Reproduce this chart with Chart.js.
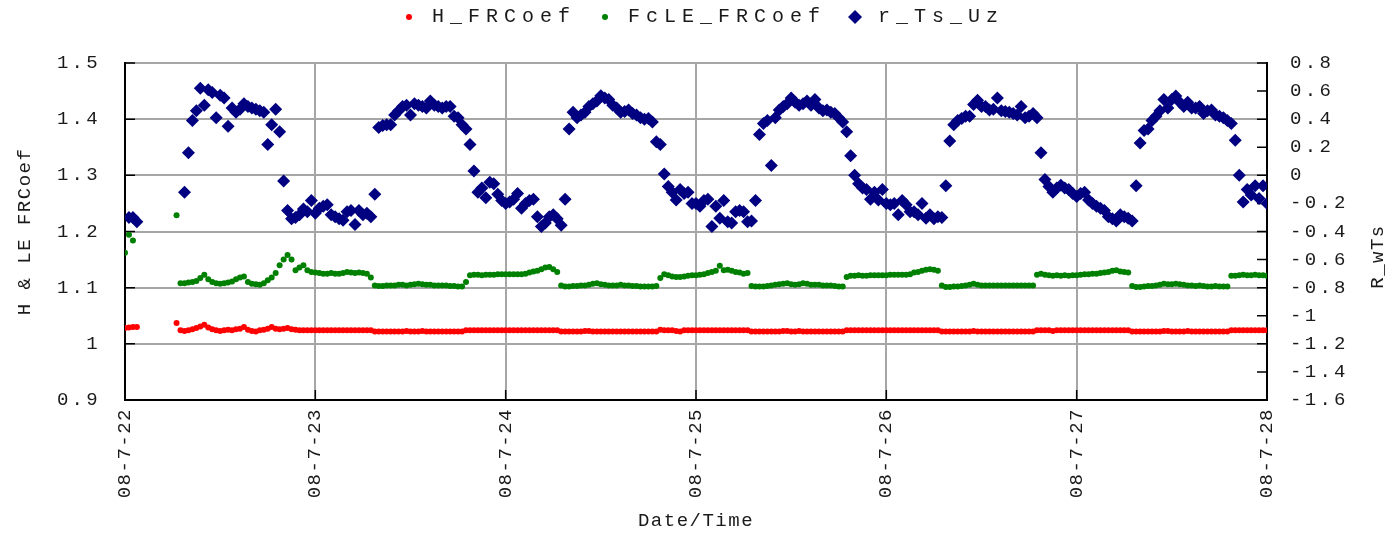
<!DOCTYPE html>
<html>
<head>
<meta charset="utf-8">
<title>FRCoef / r_Ts_Uz</title>
<script src="https://cdn.jsdelivr.net/npm/chart.js@4/dist/chart.umd.min.js"></script>
<style>
  html, body { margin: 0; padding: 0; background: #ffffff; }
  #wrap { width: 1400px; height: 533px; }
</style>
</head>
<body>
<div id="wrap"><canvas id="chart" width="1400" height="533"></canvas></div>
<script>
// Day tick labels (one tick per day, 48 half-hour samples per day)
const dayLabels = ['08-7-22', '08-7-23', '08-7-24', '08-7-25', '08-7-26', '08-7-27', '08-7-28'];
const samplesPerDay = 48;

// H_FRCoef (left axis)
const hFRCoef = [
  1.028, 1.029, 1.030, 1.030, null, null, null, null, null, null, null, null, null, 1.037,
  1.024, 1.023, 1.024, 1.026, 1.028, 1.031, 1.034, 1.029, 1.026, 1.024, 1.023, 1.024, 1.025, 1.024,
  1.026, 1.027, 1.030, 1.025, 1.023, 1.022, 1.024, 1.025, 1.027, 1.030, 1.027, 1.026, 1.027, 1.028,
  1.026, 1.025, 1.024, 1.024, 1.024, 1.024,
  // 08-7-23
  1.024, 1.024, 1.024, 1.024, 1.024, 1.024, 1.024, 1.024, 1.024, 1.024,
  1.024, 1.024, 1.024, 1.024, 1.024, 1.022, 1.022, 1.022, 1.022, 1.022,
  1.022, 1.022, 1.022, 1.023, 1.022, 1.022, 1.022, 1.023, 1.022, 1.022,
  1.022, 1.022, 1.022, 1.022, 1.022, 1.022, 1.022, 1.022, 1.024, 1.024,
  1.024, 1.024, 1.024, 1.024, 1.024, 1.024, 1.024, 1.024,
  // 08-7-24
  1.024, 1.024, 1.024, 1.024, 1.024, 1.024, 1.024, 1.024, 1.024, 1.024,
  1.024, 1.024, 1.024, 1.024, 1.022, 1.022, 1.022, 1.022, 1.022, 1.022,
  1.023, 1.023, 1.022, 1.022, 1.022, 1.022, 1.022, 1.022, 1.022, 1.022,
  1.022, 1.022, 1.022, 1.022, 1.022, 1.022, 1.022, 1.022, 1.022, 1.025,
  1.024, 1.024, 1.024, 1.023, 1.022, 1.024, 1.024, 1.024,
  // 08-7-25
  1.024, 1.024, 1.024, 1.024, 1.024, 1.024, 1.024, 1.024, 1.024, 1.024,
  1.024, 1.024, 1.024, 1.024, 1.022, 1.022, 1.022, 1.022, 1.022, 1.022,
  1.022, 1.022, 1.023, 1.023, 1.022, 1.022, 1.023, 1.022, 1.022, 1.022,
  1.022, 1.022, 1.022, 1.022, 1.022, 1.022, 1.022, 1.022, 1.024, 1.024,
  1.024, 1.024, 1.024, 1.024, 1.024, 1.024, 1.024, 1.024,
  // 08-7-26
  1.024, 1.024, 1.024, 1.024, 1.024, 1.024, 1.024, 1.024, 1.024, 1.024,
  1.024, 1.024, 1.024, 1.024, 1.022, 1.022, 1.022, 1.022, 1.022, 1.022,
  1.022, 1.022, 1.023, 1.022, 1.022, 1.022, 1.022, 1.022, 1.022, 1.022,
  1.022, 1.022, 1.022, 1.022, 1.022, 1.022, 1.022, 1.022, 1.024, 1.024,
  1.024, 1.024, 1.023, 1.024, 1.024, 1.024, 1.024, 1.024,
  // 08-7-27
  1.024, 1.024, 1.024, 1.024, 1.024, 1.024, 1.024, 1.024, 1.024, 1.024,
  1.024, 1.024, 1.024, 1.024, 1.022, 1.022, 1.022, 1.022, 1.022, 1.022,
  1.022, 1.022, 1.023, 1.023, 1.022, 1.022, 1.022, 1.022, 1.023, 1.022,
  1.022, 1.022, 1.022, 1.022, 1.022, 1.022, 1.022, 1.022, 1.022, 1.024,
  1.024, 1.024, 1.024, 1.024, 1.024, 1.024, 1.024, 1.024, 1.024
];

// FcLE_FRCoef (left axis)
const fcLEFRCoef = [
  1.162, 1.194, 1.184, null, null, null, null, null, null, null, null, null, null, 1.229,
  1.108, 1.108, 1.109, 1.110, 1.112, 1.117, 1.123, 1.115, 1.110, 1.108, 1.107, 1.108, 1.109, 1.111,
  1.115, 1.118, 1.120, 1.110, 1.107, 1.106, 1.105, 1.108, 1.113, 1.118, 1.126, 1.140, 1.150, 1.158,
  1.150, 1.131, 1.136, 1.140, 1.131, 1.128,
  // 08-7-23
  1.127, 1.126, 1.125, 1.125, 1.126, 1.125, 1.125, 1.126, 1.128, 1.127,
  1.126, 1.127, 1.126, 1.125, 1.118, 1.104, 1.103, 1.103, 1.104, 1.104,
  1.104, 1.105, 1.105, 1.104, 1.105, 1.106, 1.107, 1.106, 1.105, 1.105,
  1.104, 1.104, 1.104, 1.104, 1.103, 1.103, 1.102, 1.102, 1.110, 1.122,
  1.123, 1.123, 1.122, 1.123, 1.123, 1.123, 1.124, 1.124,
  // 08-7-24
  1.124, 1.124, 1.124, 1.124, 1.124, 1.125, 1.127, 1.129, 1.130, 1.133,
  1.136, 1.137, 1.133, 1.128, 1.104, 1.102, 1.102, 1.103, 1.103, 1.104,
  1.104, 1.105, 1.107, 1.108, 1.106, 1.105, 1.104, 1.104, 1.104, 1.105,
  1.104, 1.104, 1.103, 1.103, 1.102, 1.102, 1.102, 1.102, 1.103, 1.117,
  1.124, 1.122, 1.120, 1.119, 1.119, 1.120, 1.121, 1.122,
  // 08-7-25
  1.122, 1.123, 1.124, 1.126, 1.128, 1.130, 1.139, 1.131, 1.132, 1.130,
  1.128, 1.127, 1.125, 1.126, 1.103, 1.102, 1.102, 1.102, 1.103, 1.104,
  1.105, 1.106, 1.107, 1.108, 1.106, 1.105, 1.106, 1.108, 1.107, 1.105,
  1.105, 1.105, 1.104, 1.104, 1.104, 1.103, 1.102, 1.102, 1.119, 1.121,
  1.121, 1.122, 1.121, 1.121, 1.122, 1.122, 1.122, 1.122,
  // 08-7-26
  1.122, 1.123, 1.123, 1.123, 1.123, 1.123, 1.124, 1.127, 1.128, 1.130,
  1.132, 1.133, 1.132, 1.130, 1.104, 1.101, 1.101, 1.102, 1.102, 1.103,
  1.104, 1.105, 1.107, 1.105, 1.104, 1.104, 1.104, 1.104, 1.104, 1.104,
  1.104, 1.104, 1.104, 1.104, 1.104, 1.104, 1.104, 1.104, 1.123, 1.125,
  1.123, 1.122, 1.121, 1.122, 1.121, 1.122, 1.121, 1.122,
  // 08-7-27
  1.122, 1.123, 1.124, 1.124, 1.125, 1.125, 1.126, 1.127, 1.128, 1.130,
  1.131, 1.129, 1.128, 1.127, 1.103, 1.101, 1.101, 1.102, 1.103, 1.103,
  1.104, 1.105, 1.107, 1.106, 1.106, 1.107, 1.106, 1.105, 1.104, 1.104,
  1.103, 1.104, 1.103, 1.102, 1.102, 1.103, 1.102, 1.102, 1.102, 1.121,
  1.121, 1.122, 1.123, 1.122, 1.122, 1.123, 1.122, 1.122, 1.121
];

// r_Ts_Uz (right axis, R_wTs)
const rTsUz = [
  null, -0.30, -0.30, -0.33, null, null, null, null, null, null, null, null, null, null, null,
  -0.12, 0.16, 0.39, 0.46, 0.62, 0.50, 0.61, 0.59, 0.41, 0.57, 0.55, 0.35, 0.48, 0.45, 0.47,
  0.51, 0.49, 0.48, 0.47, 0.46, 0.45, 0.22, 0.36, 0.47, 0.31, -0.04, -0.25, -0.31, -0.30, -0.28,
  -0.24, -0.26, -0.18,
  // 08-7-23
  -0.27, -0.235, -0.22, -0.21, -0.28, -0.295, -0.31, -0.32, -0.26, -0.25,
  -0.35, -0.25, -0.28, -0.27, -0.295, -0.135, 0.34, 0.355, 0.36, 0.36,
  0.43, 0.46, 0.49, 0.50, 0.43, 0.51, 0.50, 0.49, 0.48, 0.53,
  0.50, 0.49, 0.48, 0.49, 0.49, 0.42, 0.41, 0.36, 0.33, 0.22,
  0.03, -0.12, -0.09, -0.16, -0.05, -0.06, -0.135, -0.18,
  // 08-7-24
  -0.20, -0.19, -0.17, -0.13, -0.235, -0.20, -0.18, -0.17, -0.295, -0.365,
  -0.34, -0.295, -0.28, -0.31, -0.355, -0.17, 0.33, 0.45, 0.41, 0.43,
  0.45, 0.49, 0.51, 0.53, 0.567, 0.55, 0.54, 0.50, 0.48, 0.45,
  0.455, 0.465, 0.44, 0.43, 0.41, 0.40, 0.405, 0.38, 0.24, 0.22,
  0.01, -0.08, -0.12, -0.175, -0.10, -0.13, -0.12, -0.20,
  // 08-7-25
  -0.20, -0.22, -0.18, -0.17, -0.365, -0.22, -0.305, -0.18, -0.33, -0.34,
  -0.26, -0.25, -0.26, -0.33, -0.325, -0.18, 0.29, 0.37, 0.39, 0.07,
  0.41, 0.465, 0.49, 0.51, 0.55, 0.52, 0.50, 0.51, 0.53, 0.50,
  0.54, 0.48, 0.46, 0.465, 0.45, 0.44, 0.41, 0.38, 0.31, 0.14,
  0.00, -0.06, -0.09, -0.10, -0.17, -0.12, -0.175, -0.10,
  // 08-7-26
  -0.20, -0.21, -0.20, -0.28, -0.18, -0.21, -0.26, -0.26, -0.28, -0.20,
  -0.305, -0.28, -0.31, -0.295, -0.30, -0.075, 0.245, 0.36, 0.39, 0.405,
  0.42, 0.42, 0.505, 0.535, 0.49, 0.49, 0.465, 0.47, 0.55, 0.46,
  0.455, 0.45, 0.44, 0.43, 0.49, 0.41, 0.42, 0.44, 0.41, 0.16,
  -0.03, -0.08, -0.12, -0.09, -0.07, -0.09, -0.10, -0.13,
  // 08-7-27
  -0.15, -0.13, -0.12, -0.175, -0.20, -0.22, -0.235, -0.25, -0.295, -0.31,
  -0.325, -0.28, -0.295, -0.305, -0.325, -0.075, 0.23, 0.32, 0.33, 0.39,
  0.42, 0.46, 0.54, 0.48, 0.54, 0.565, 0.52, 0.49, 0.52, 0.48,
  0.48, 0.49, 0.44, 0.46, 0.465, 0.43, 0.42, 0.41, 0.39, 0.37,
  0.25, 0.00, -0.19, -0.10, -0.14, -0.075, -0.165, -0.075, -0.20
];

const FONT = "'Liberation Mono', 'DejaVu Sans Mono', monospace";
const TEXT = '#1a1a1a';
const GRID = '#a6a6a6';
const RED = '#ff0000';
const GREEN = '#008000';
const NAVY = '#000080';

// sample index -> position in days
const toXY = values => values.map((v, i) => ({ x: i / samplesPerDay, y: v }));
const fmtTick = v => String(Math.round(v * 10) / 10);

// small legend icons: dots for the coefficients, a diamond for r_Ts_Uz
function dotIcon(color) {
  const c = document.createElement('canvas');
  c.width = 8; c.height = 8;
  const g = c.getContext('2d');
  g.fillStyle = color;
  g.beginPath(); g.arc(4, 4, 3, 0, Math.PI * 2); g.fill();
  return c;
}
function diamondIcon(color) {
  const c = document.createElement('canvas');
  c.width = 16; c.height = 16;
  const g = c.getContext('2d');
  g.fillStyle = color;
  g.beginPath(); g.moveTo(8, 1); g.lineTo(15, 8); g.lineTo(8, 15); g.lineTo(1, 8); g.closePath(); g.fill();
  return c;
}
const legendIcons = [dotIcon(RED), dotIcon(GREEN), diamondIcon(NAVY)];

// run a method of a chart element with its own letter spacing
function spaced(obj, name, px, before, after) {
  if (!obj || obj['_spaced_' + name]) return;
  const orig = obj[name];
  obj[name] = function (...args) {
    const ctx = this.ctx;
    ctx.save();
    ctx.letterSpacing = px;
    if (before) before(this, ctx);
    try { return orig.apply(this, args); }
    finally { ctx.restore(); if (after) after(this); }
  };
  obj['_spaced_' + name] = true;
}

const BASE_SPACING = '1.5px';
const LEGEND_PAD = 16;      // space between legend entries
const LEGEND_LIFT = 9;      // raise the legend row towards the top edge
const LEGEND_GAP = 17;      // extra room between legend and plot

const framePlugin = {
  id: 'frame',
  beforeUpdate(chart) { chart.ctx.letterSpacing = BASE_SPACING; },
  beforeLayout(chart) {
    chart.ctx.letterSpacing = BASE_SPACING;
    spaced(chart.legend, 'fit', '6px', null, lg => { lg.height += LEGEND_GAP; });
    spaced(chart.legend, 'draw', '6px', (lg, ctx) => ctx.translate(0, -LEGEND_LIFT));
    spaced(chart.scales.y, 'drawLabels', '3.3px');
    spaced(chart.scales.y2, 'drawLabels', '3.3px');
  },
  beforeDraw(chart) { chart.ctx.letterSpacing = BASE_SPACING; },
  beforeDatasetsDraw(chart) {
    // inward tick marks on the left, right and bottom axes
    const { ctx, chartArea: a, scales: { x, y, y2 } } = chart;
    ctx.save();
    ctx.strokeStyle = '#000';
    ctx.lineWidth = 1.5;
    ctx.beginPath();
    y.ticks.forEach(t => { const p = y.getPixelForValue(t.value); ctx.moveTo(a.left, p); ctx.lineTo(a.left + 10, p); });
    y2.ticks.forEach(t => { const p = y2.getPixelForValue(t.value); ctx.moveTo(a.right, p); ctx.lineTo(a.right - 10, p); });
    x.ticks.forEach(t => { const p = x.getPixelForValue(t.value); ctx.moveTo(p, a.bottom); ctx.lineTo(p, a.bottom - 10); });
    ctx.stroke();
    ctx.restore();
  },
  afterDraw(chart) {
    // right axis title, reading bottom to top like the left one
    const { ctx, chartArea: a } = chart;
    ctx.save();
    ctx.letterSpacing = BASE_SPACING;
    ctx.font = '19px ' + FONT;
    ctx.fillStyle = TEXT;
    ctx.textAlign = 'center';
    ctx.textBaseline = 'middle';
    ctx.translate(1378, (a.top + a.bottom) / 2 + 25);
    ctx.rotate(-Math.PI / 2);
    ctx.fillText('R_wTs', 0, 0);
    ctx.restore();
  }
};

const tickFont = { family: FONT, size: 19 };

new Chart(document.getElementById('chart'), {
  type: 'scatter',
  data: {
    datasets: [
      { label: 'H_FRCoef', data: toXY(hFRCoef), yAxisID: 'y',
        backgroundColor: RED, borderColor: RED, pointStyle: 'circle', pointRadius: 3, borderWidth: 0 },
      { label: 'FcLE_FRCoef', data: toXY(fcLEFRCoef), yAxisID: 'y',
        backgroundColor: GREEN, borderColor: GREEN, pointStyle: 'circle', pointRadius: 3, borderWidth: 0 },
      { label: 'r_Ts_Uz', data: toXY(rTsUz), yAxisID: 'y2',
        backgroundColor: NAVY, borderColor: NAVY, pointStyle: 'rectRot', pointRadius: 6.5, borderWidth: 0 }
    ]
  },
  options: {
    responsive: false,
    animation: false,
    devicePixelRatio: 1,
    layout: { padding: { top: 0, left: 0, right: 0, bottom: 0 } },
    plugins: {
      tooltip: { enabled: false },
      legend: {
        position: 'top',
        labels: {
          usePointStyle: true,
          pointStyleWidth: 26,
          padding: LEGEND_PAD,
          color: TEXT,
          font: { family: FONT, size: 20 },
          generateLabels: chart => chart.data.datasets.map((ds, i) => ({
            text: ds.label,
            pointStyle: legendIcons[i],
            fillStyle: ds.backgroundColor,
            strokeStyle: ds.backgroundColor,
            fontColor: TEXT,
            lineWidth: 0,
            hidden: false,
            datasetIndex: i
          }))
        }
      }
    },
    scales: {
      x: {
        type: 'linear',
        position: 'bottom',
        min: 0,
        max: 6,
        ticks: {
          stepSize: 1,
          autoSkip: false,
          minRotation: 90,
          maxRotation: 90,
          padding: 8,
          color: TEXT,
          font: tickFont,
          callback: v => dayLabels[v] ?? ''
        },
        grid: { color: GRID, lineWidth: 2, drawTicks: false },
        border: { color: '#000', width: 2 },
        title: { display: true, text: 'Date/Time', color: TEXT, font: tickFont, padding: { top: 0, bottom: 1 } },
        afterFit: s => { s.height = 133; }
      },
      y: {
        position: 'left',
        min: 0.9,
        max: 1.5,
        ticks: { stepSize: 0.1, padding: 24, color: TEXT, font: tickFont, callback: fmtTick },
        grid: { color: GRID, lineWidth: 2, drawTicks: false },
        border: { color: '#000', width: 2 },
        title: { display: true, text: 'H & LE FRCoef', color: TEXT, font: tickFont, padding: { top: 14, bottom: 0 } },
        afterFit: s => { s.width = 125; }
      },
      y2: {
        position: 'right',
        min: -1.6,
        max: 0.8,
        ticks: { stepSize: 0.2, padding: 23, color: TEXT, font: tickFont, callback: fmtTick },
        grid: { drawOnChartArea: false, drawTicks: false },
        border: { color: '#000', width: 2 },
        afterFit: s => { s.width = 133; }
      }
    }
  },
  plugins: [framePlugin]
});
</script>
</body>
</html>
